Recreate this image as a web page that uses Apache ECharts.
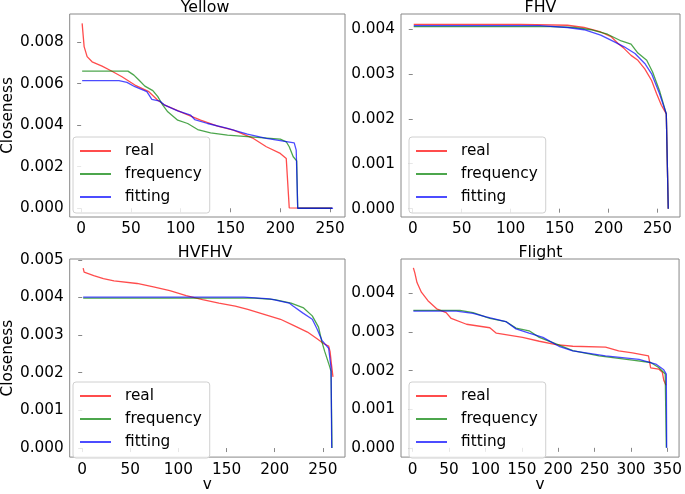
<!DOCTYPE html>
<html>
<head>
<meta charset="utf-8">
<script src="https://cdn.jsdelivr.net/npm/echarts@6/dist/echarts.min.js"></script>
<style>html,body{margin:0;padding:0;background:#fff;}#c{width:685px;height:494px;}</style>
</head>
<body>
<div id="c"></div>
<script>
// ---- data (x = v rank, y = closeness) ----
const panelTitles = ['Yellow', 'FHV', 'HVFHV', 'Flight'];
const seriesNames = ['real', 'frequency', 'fitting'];
const xTicksA = [0, 50, 100, 150, 200, 250];
const xTicksFlight = [0, 50, 100, 150, 200, 250, 300, 350];
const yTicksYellow = [0, 0.002, 0.004, 0.006, 0.008];
const yTicksFHV = [0, 0.001, 0.002, 0.003, 0.004];
const yTicksHV = [0, 0.001, 0.002, 0.003, 0.004, 0.005];
const yTicksFlight = [0, 0.001, 0.002, 0.003, 0.004];

const yellowReal = [[1,0.00890],[3,0.00778],[6,0.00730],[11,0.00705],[21,0.00684],[30,0.00662],[41,0.00633],[54,0.00593],[68,0.00561],[77,0.00520],[84,0.00496],[104,0.00456],[120,0.00424],[137,0.00395],[153,0.00376],[173,0.00336],[186,0.00296],[200,0.00264],[206,0.00239],[208,0.00232],[209,0.00002],[210,0],[252,0]];
const yellowFreq = [[1,0.00660],[47,0.00660],[53,0.00641],[58,0.00617],[64,0.00588],[72,0.00566],[77,0.00537],[82,0.00496],[87,0.00464],[97,0.00424],[107,0.00408],[117,0.00379],[130,0.00363],[147,0.00352],[170,0.00344],[200,0.00333],[206,0.00320],[209,0.00296],[213,0.00248],[216.5,0.00228],[217.5,0],[252,0]];
const yellowFit = [[1,0.00614],[38,0.00614],[46,0.00606],[54,0.00585],[66,0.00561],[71,0.00524],[79,0.00516],[84,0.00496],[97,0.00469],[110,0.00448],[114,0.00427],[127,0.00408],[147,0.00384],[167,0.00357],[186,0.00336],[203,0.00323],[214,0.00315],[216,0.00280],[217.5,0],[253,0]];

const fhvReal = [[1,0.00410],[110,0.00410],[158,0.00408],[175,0.00403],[192,0.00393],[203,0.00382],[210,0.00367],[216,0.00356],[223,0.00341],[230,0.00330],[237,0.00311],[244,0.00285],[249,0.00256],[254,0.00230],[259,0.00211],[260,0.00207],[261,0]];
const fhvFreq = [[1,0.00405],[141,0.00405],[165,0.00403],[182,0.00398],[199,0.00388],[213,0.00373],[223,0.00366],[230,0.00346],[239,0.00330],[245,0.00304],[252,0.00263],[259,0.00211],[260,0.00207],[261,0]];
const fhvFit = [[1,0.00407],[130,0.00407],[158,0.00403],[175,0.00398],[192,0.00386],[206,0.00371],[216,0.00360],[227,0.00345],[237,0.00323],[244,0.00300],[252,0.00256],[259,0.00211],[260,0.00207],[261,0]];

const hvReal = [[1,0.00478],[2,0.00467],[12,0.00458],[22,0.00450],[33,0.00444],[57,0.00437],[74,0.00428],[91,0.00418],[108,0.00405],[125,0.00394],[142,0.00385],[159,0.00377],[172,0.00368],[189,0.00355],[206,0.00342],[220,0.00325],[234,0.00308],[244,0.00290],[251,0.00277],[256,0.00271],[257.5,0.00256],[259,0.00221],[260.5,0.00189]];
const hvFreq = [[1,0.00398],[179,0.00398],[200,0.00394],[217,0.00385],[230,0.00372],[239,0.00351],[245.5,0.00321],[249,0.00282],[252,0.00256],[257,0.00217],[258.5,0.00204],[259.5,0]];
const hvFit = [[1,0.00401],[168,0.00401],[195,0.00396],[215,0.00385],[219,0.00377],[229,0.00359],[239,0.00342],[244,0.00316],[249,0.00286],[256,0.00265],[258.5,0.00213],[259.2,0]];

const flReal = [[1,0.00466],[3,0.00453],[6,0.00428],[12,0.00403],[21,0.00381],[33,0.00360],[46,0.00350],[53,0.00335],[74,0.00320],[106,0.00311],[115,0.00297],[151,0.00286],[174,0.00276],[197,0.00267],[220,0.00263],[265,0.00261],[283,0.00251],[302,0.00246],[324,0.00238],[327,0.00207],[338,0.00204],[343,0.00196],[345,0.00175],[348,0.00162]];
const flFreq = [[1,0.00356],[65,0.00356],[83,0.00350],[106,0.00335],[128,0.00327],[142,0.00310],[160,0.00303],[174,0.00286],[197,0.00269],[220,0.00252],[256,0.00238],[302,0.00227],[327,0.00221],[338,0.00208],[347,0.00191],[348.5,0]];
const flFit = [[1,0.00354],[60,0.00354],[83,0.00348],[101,0.00339],[128,0.00327],[142,0.00308],[160,0.00297],[179,0.00286],[201,0.00263],[220,0.00251],[265,0.00238],[311,0.00229],[334,0.00217],[345,0.00202],[348.5,0.00191],[349,0]];

// ---- layout / style ----
const FONT = 'DejaVu Sans';
const FS = 15.3;
const colors = ['#ff0000', '#008000', '#0000ff'];
const grids = [
  {left: 65, top: 14, width: 280, height: 203},
  {left: 401, top: 14, width: 279, height: 203},
  {left: 65, top: 259, width: 280, height: 203},
  {left: 401, top: 259, width: 279, height: 203}
];
const xRanges = [[-11.5, 265], [-12, 273], [-13, 273], [-16, 366]];
const yRanges = [[-0.00042, 0.00935], [-0.000185, 0.00433], [-0.00024, 0.00502], [-0.00024, 0.00489]];
const xTicks = [xTicksA, xTicksA, xTicksA, xTicksFlight];
const yTicks = [yTicksYellow, yTicksFHV, yTicksHV, yTicksFlight];
const panelData = [
  [yellowReal, yellowFreq, yellowFit],
  [fhvReal, fhvFreq, fhvFit],
  [hvReal, hvFreq, hvFit],
  [flReal, flFreq, flFit]
];
const AX = '#888888';

const option = {
  animation: false,
  backgroundColor: '#ffffff',
  title: grids.map((g, i) => ({
    text: panelTitles[i],
    left: g.left + g.width / 2,
    top: g.top - 15.5,
    textAlign: 'center',
    padding: 0,
    textStyle: {fontFamily: FONT, fontSize: 15.8, fontWeight: 'normal', color: '#000', lineHeight: 18}
  })),
  grid: grids.map(g => Object.assign({show: true, borderColor: AX, borderWidth: 1, backgroundColor: 'transparent', containLabel: false}, g)),
  legend: grids.map((g, i) => ({
    data: seriesNames,
    orient: 'vertical',
    left: g.left + 8,
    top: g.top + 123,
    padding: [6, 8, 8, 6],
    itemGap: 7,
    itemWidth: 31,
    itemHeight: 16,
    backgroundColor: 'rgba(255,255,255,0.8)',
    borderColor: '#d0d0d0',
    borderWidth: 1,
    borderRadius: 3,
    selectedMode: false,
    itemStyle: {opacity: 0},
    textStyle: {fontFamily: FONT, fontSize: FS, color: '#000', lineHeight: 16, padding: [0, 0, 0, 9]}
  })),
  xAxis: grids.map((g, i) => ({
    type: 'value',
    gridIndex: i,
    min: xRanges[i][0],
    max: xRanges[i][1],
    name: i >= 2 ? 'v' : '',
    nameLocation: 'middle',
    nameGap: 17,
    nameTextStyle: {fontFamily: FONT, fontSize: FS, color: '#000'},
    axisLine: {show: false},
    splitLine: {show: false},
    axisTick: {show: true, length: 4, lineStyle: {color: AX}, customValues: xTicks[i]},
    axisLabel: {fontFamily: FONT, fontSize: FS, color: '#000', margin: 5, customValues: xTicks[i], formatter: v => String(Math.round(v))}
  })),
  yAxis: grids.map((g, i) => ({
    type: 'value',
    gridIndex: i,
    min: yRanges[i][0],
    max: yRanges[i][1],
    name: (i % 2 === 0) ? 'Closeness' : '',
    nameLocation: 'middle',
    nameRotate: 90,
    nameGap: 48,
    nameTextStyle: {fontFamily: FONT, fontSize: FS, color: '#000'},
    axisLine: {show: false},
    splitLine: {show: false},
    axisTick: {show: true, length: 4, lineStyle: {color: AX}, customValues: yTicks[i]},
    axisLabel: {fontFamily: FONT, fontSize: FS, color: '#000', margin: 6, customValues: yTicks[i], formatter: v => v.toFixed(3)}
  })),
  series: []
};

panelData.forEach((arrs, p) => {
  arrs.forEach((d, k) => {
    option.series.push({
      type: 'line',
      name: seriesNames[k],
      xAxisIndex: p,
      yAxisIndex: p,
      data: d,
      symbol: 'none',
      showSymbol: false,
      silent: true,
      itemStyle: {color: colors[k], opacity: 0.7},
      lineStyle: {color: colors[k], width: 1.3, opacity: 0.7}
    });
  });
});

const chart = echarts.init(document.getElementById('c'), null, {renderer: 'canvas'});
chart.setOption(option);
</script>
</body>
</html>
